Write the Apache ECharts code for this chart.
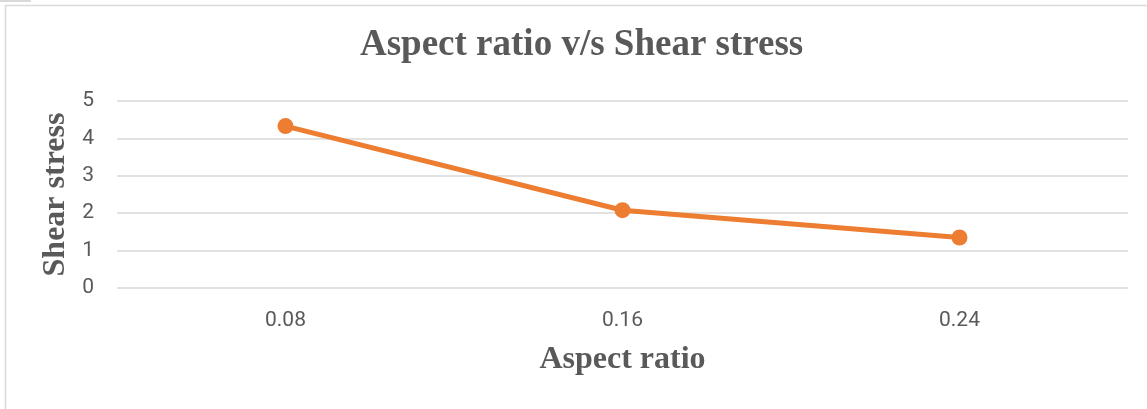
<!DOCTYPE html>
<html>
<head>
<meta charset="utf-8">
<script src="https://cdn.jsdelivr.net/npm/echarts@6/dist/echarts.min.js"></script>
<style>
  html, body { margin: 0; padding: 0; background: #fff; }
  #chart { width: 1147px; height: 409px; }
</style>
</head>
<body>
<div id="chart"></div>
<script>
// aspect ratio categories and shear stress values
const aspectRatios = ['0.08', '0.16', '0.24']
const shearStress = [4.33, 2.08, 1.35]
const yTicks = { min: 0, max: 5, interval: 1 }

const chart = echarts.init(document.getElementById('chart'))

const option = {
  backgroundColor: '#fff',
  animation: false,
  title: {
    text: 'Aspect ratio v/s Shear stress',
    left: 355,
    top: 22,
    textStyle: {
      fontFamily: 'Liberation Serif',
      fontWeight: 'bold',
      fontSize: 37,
      color: '#595959'
    }
  },
  grid: {
    left: 117,
    right: 19,
    top: 101,
    bottom: 121
  },
  graphic: [
    {
      type: 'rect',
      shape: { x: 5.5, y: 5.5, width: 1160, height: 420 },
      style: { fill: 'none', stroke: '#d9d9d9', lineWidth: 1.5 },
      silent: true
    },
    {
      type: 'rect',
      shape: { x: 0, y: 0, width: 31, height: 2 },
      style: { fill: '#d9d9d9' },
      silent: true
    }
  ],
  xAxis: {
    type: 'category',
    data: aspectRatios,
    name: 'Aspect ratio',
    nameLocation: 'middle',
    nameGap: 56,
    nameTextStyle: {
      fontFamily: 'Liberation Serif',
      fontWeight: 'bold',
      fontSize: 32,
      color: '#595959'
    },
    axisLine: { show: false },
    axisTick: { show: false },
    axisLabel: {
      margin: 22,
      fontFamily: 'Roboto',
      fontSize: 21,
      color: '#595959'
    }
  },
  yAxis: {
    type: 'value',
    min: yTicks.min,
    max: yTicks.max,
    interval: yTicks.interval,
    name: 'Shear stress',
    nameLocation: 'middle',
    nameGap: 44,
    nameTextStyle: {
      fontFamily: 'Liberation Serif',
      fontWeight: 'bold',
      fontSize: 32,
      color: '#595959'
    },
    axisLine: { show: false },
    axisTick: { show: false },
    axisLabel: {
      margin: 23,
      fontFamily: 'Roboto',
      fontSize: 21,
      color: '#595959'
    },
    splitLine: {
      lineStyle: { color: '#d9d9d9', width: 1.5 }
    }
  },
  series: [
    {
      type: 'line',
      data: shearStress,
      symbol: 'circle',
      symbolSize: 16,
      lineStyle: { color: '#ED7D31', width: 5 },
      itemStyle: { color: '#ED7D31' }
    }
  ]
}

chart.setOption(option)
</script>
</body>
</html>
